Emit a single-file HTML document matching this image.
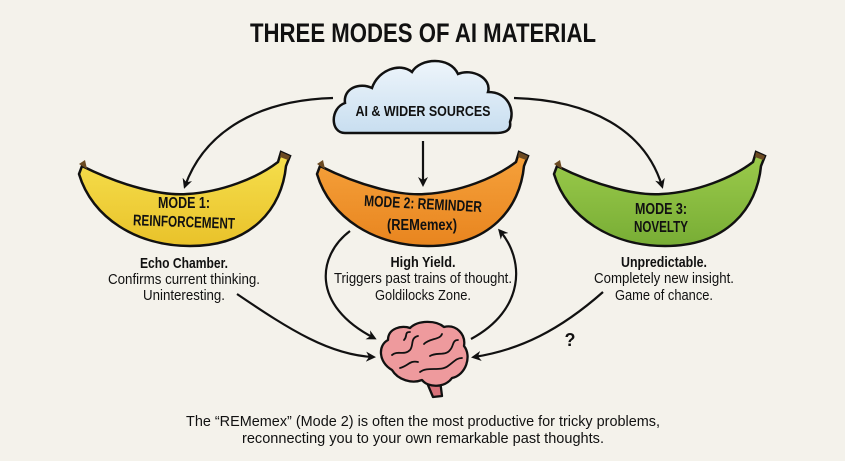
<!DOCTYPE html>
<html><head><meta charset="utf-8"><style>
html,body{margin:0;padding:0;background:#f4f2eb;}
svg{display:block;}
text{font-family:"Liberation Sans",sans-serif;fill:#111;}
</style></head><body>
<svg width="845" height="461" viewBox="0 0 845 461" xmlns="http://www.w3.org/2000/svg">
<defs>
<marker id="ah" markerWidth="10" markerHeight="10" refX="7" refY="5" orient="auto" markerUnits="userSpaceOnUse">
<path d="M0,0 L10,5 L0,10 L3,5 Z" fill="#111"/></marker>
<linearGradient id="cl" x1="0" y1="0" x2="0" y2="1"><stop offset="0" stop-color="#eef5fb"/><stop offset="1" stop-color="#c8def0"/></linearGradient>
<linearGradient id="g1" x1="0" y1="0" x2="0" y2="1"><stop offset="0" stop-color="#f6e04e"/><stop offset="1" stop-color="#e9c22a"/></linearGradient>
<linearGradient id="g2" x1="0" y1="0" x2="0" y2="1"><stop offset="0" stop-color="#f6a23c"/><stop offset="1" stop-color="#e8851f"/></linearGradient>
<linearGradient id="g3" x1="0" y1="0" x2="0" y2="1"><stop offset="0" stop-color="#9ccc4c"/><stop offset="1" stop-color="#78ad35"/></linearGradient>
<path id="ban" d="M0,0 C40,20 80,30 105,28 C140,26 175,12 196,-4 L199,-14 L208,-10 L204,0 C200,42 170,80 108,80 C55,80 10,52 -3,8 Z"/>
</defs>
<rect width="845" height="461" fill="#f4f2eb"/>
<text x="423" y="42" text-anchor="middle" font-size="27" font-weight="bold" textLength="346" lengthAdjust="spacingAndGlyphs">THREE MODES OF AI MATERIAL</text>

<path d="M333,98 C260,100 205,130 185,186" fill="none" stroke="#111" stroke-width="2.2" marker-end="url(#ah)"/>
<path d="M514,98 C590,100 645,130 662,186" fill="none" stroke="#111" stroke-width="2.2" marker-end="url(#ah)"/>
<path d="M423,141 L423,184" fill="none" stroke="#111" stroke-width="2.2" marker-end="url(#ah)"/>

<path d="M345,133 C330,133 330,108 345,103 C343,88 360,82 372,88 C378,70 400,62 412,72 C420,58 450,56 458,74 C472,68 492,78 488,92 C508,92 515,110 510,122 C512,133 500,133 495,133 Z" fill="url(#cl)" stroke="#111" stroke-width="2.5"/>
<text x="423" y="116" text-anchor="middle" font-size="15" font-weight="bold" textLength="135" lengthAdjust="spacingAndGlyphs">AI &amp; WIDER SOURCES</text>

<g transform="translate(82,166)"><use href="#ban" fill="url(#g1)" stroke="#111" stroke-width="2.5"/><path d="M-3,-2 L3,-6 L5,3 Z" fill="#6b4a22"/><path d="M199,-14 L208,-10 L206,-6 L198,-9Z" fill="#6b4a22"/></g>
<g transform="translate(320,166)"><use href="#ban" fill="url(#g2)" stroke="#111" stroke-width="2.5"/><path d="M-3,-2 L3,-6 L5,3 Z" fill="#6b4a22"/><path d="M199,-14 L208,-10 L206,-6 L198,-9Z" fill="#6b4a22"/></g>
<g transform="translate(557,166)"><use href="#ban" fill="url(#g3)" stroke="#111" stroke-width="2.5"/><path d="M-3,-2 L3,-6 L5,3 Z" fill="#6b4a22"/><path d="M199,-14 L208,-10 L206,-6 L198,-9Z" fill="#6b4a22"/></g>

<g font-weight="bold" font-size="15.5" text-anchor="middle">
<text x="184" y="208" textLength="52" lengthAdjust="spacingAndGlyphs">MODE 1:</text>
<text x="184" y="227" textLength="102" lengthAdjust="spacingAndGlyphs" transform="rotate(2 184 222)">REINFORCEMENT</text>
<text x="423" y="209" textLength="118" lengthAdjust="spacingAndGlyphs" transform="rotate(3 423 205)">MODE 2: REMINDER</text>
<text x="422" y="230" textLength="70" lengthAdjust="spacingAndGlyphs">(REMemex)</text>
<text x="661" y="214" textLength="52" lengthAdjust="spacingAndGlyphs">MODE 3:</text>
<text x="661" y="232" textLength="54" lengthAdjust="spacingAndGlyphs">NOVELTY</text>
</g>

<g font-size="15" text-anchor="middle">
<text x="184" y="268" font-weight="bold" textLength="88" lengthAdjust="spacingAndGlyphs">Echo Chamber.</text>
<text x="184" y="284" textLength="152" lengthAdjust="spacingAndGlyphs">Confirms current thinking.</text>
<text x="184" y="300" textLength="82" lengthAdjust="spacingAndGlyphs">Uninteresting.</text>
<text x="423" y="267" font-weight="bold" textLength="65" lengthAdjust="spacingAndGlyphs">High Yield.</text>
<text x="423" y="283" textLength="178" lengthAdjust="spacingAndGlyphs">Triggers past trains of thought.</text>
<text x="423" y="300" textLength="96" lengthAdjust="spacingAndGlyphs">Goldilocks Zone.</text>
<text x="664" y="267" font-weight="bold" textLength="86" lengthAdjust="spacingAndGlyphs">Unpredictable.</text>
<text x="664" y="283" textLength="140" lengthAdjust="spacingAndGlyphs">Completely new insight.</text>
<text x="664" y="300" textLength="98" lengthAdjust="spacingAndGlyphs">Game of chance.</text>
</g>

<path d="M237,294 C290,330 330,355 373,357" fill="none" stroke="#111" stroke-width="2.2" marker-end="url(#ah)"/>
<path d="M350,231 C318,255 310,305 374,338" fill="none" stroke="#111" stroke-width="2.2" marker-end="url(#ah)"/>
<path d="M471,339 C525,310 525,260 500,231" fill="none" stroke="#111" stroke-width="2.2" marker-end="url(#ah)"/>
<path d="M603,292 C560,330 520,350 474,357" fill="none" stroke="#111" stroke-width="2.2" marker-end="url(#ah)"/>
<text x="570" y="346" font-size="18" font-weight="bold" text-anchor="middle">?</text>

<g stroke="#111" stroke-width="2.3" stroke-linejoin="round" stroke-linecap="round">
<path d="M425,378 L433,397 L442,396 L440,380 Z" fill="#d9727a"/>
<path d="M392,370 C378,362 378,345 388,340 C388,328 402,325 410,328 C418,320 436,320 444,327 C456,324 466,334 464,346 C472,356 466,375 452,378 C445,388 428,388 422,380 C412,384 398,380 392,370 Z" fill="#ee9a9d"/>
<g fill="none" stroke-width="1.8">
<path d="M392,355 C398,350 404,356 410,350 C414,345 410,338 418,336"/>
<path d="M400,368 C408,366 410,360 418,362"/>
<path d="M424,344 C430,338 440,340 442,334"/>
<path d="M430,356 C436,352 446,356 450,350 C454,346 452,340 458,340"/>
<path d="M420,372 C428,366 440,372 448,366 C454,362 456,358 462,358"/>
<path d="M404,340 C408,336 404,332 410,332"/>
</g></g>

<g font-size="15" text-anchor="middle">
<text x="423" y="426" textLength="474" lengthAdjust="spacingAndGlyphs">The “REMemex” (Mode 2) is often the most productive for tricky problems,</text>
<text x="423" y="443" textLength="362" lengthAdjust="spacingAndGlyphs">reconnecting you to your own remarkable past thoughts.</text>
</g>
</svg>
</body></html>
